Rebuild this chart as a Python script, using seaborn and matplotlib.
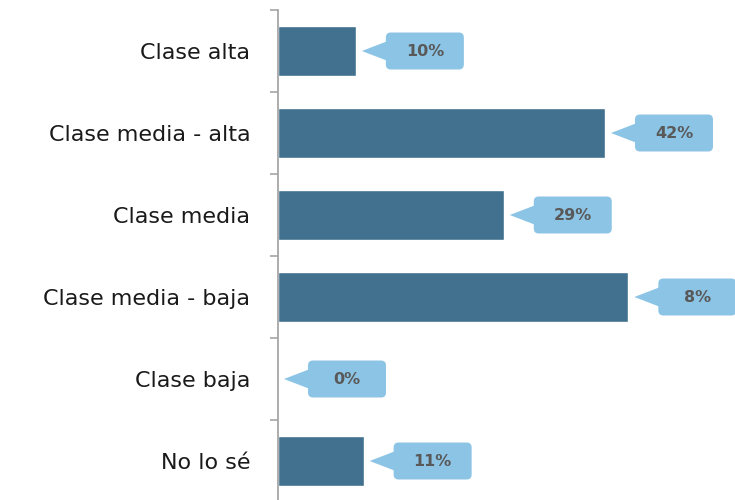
import matplotlib
matplotlib.use('Agg')
import matplotlib.pyplot as plt
from matplotlib.transforms import IdentityTransform
from matplotlib.patches import FancyBboxPatch, Polygon
import seaborn as sns
import pandas as pd
import numpy as np

categories = ["Clase alta", "Clase media - alta", "Clase media",
              "Clase media - baja", "Clase baja", "No lo sé"]
bar_values = [10, 42, 29, 45, 0, 11]          # bar lengths as drawn in the picture
label_texts = ["10%", "42%", "29%", "8%", "0%", "11%"]  # callout texts

sns.set_theme(style="white")
plt.rcParams['font.family'] = ['DejaVu Sans']

W, H = 735, 500
DPI = 100
fig = plt.figure(figsize=(W / DPI, H / DPI), dpi=DPI)
ax = fig.add_axes([278 / W, -2 / H, 1 - 278 / W, 492 / H])

df = pd.DataFrame({"cat": categories, "val": bar_values})
sns.barplot(data=df, y="cat", x="val", color="#41718F", saturation=1,
            width=0.6, ax=ax, orient="h")

ax.set_xlim(0, 58.7)
ax.set_ylim(len(categories) - 0.5, -0.5)
ax.set_xlabel("")
ax.set_ylabel("")
ax.set_xticks([])

for s in ["top", "right", "bottom"]:
    ax.spines[s].set_visible(False)
ax.spines["left"].set_color("#A6A6A6")
ax.spines["left"].set_linewidth(1.3)

ax.set_yticks(range(len(categories)))
ax.set_yticklabels(categories, fontsize=16, color="#1a1a1a")
ax.tick_params(axis="y", which="major", length=0, pad=20)
ax.set_yticks(np.arange(-0.5, len(categories) + 0.5, 1), minor=True)
ax.tick_params(axis="y", which="minor", length=6, width=1.2,
               color="#A6A6A6", direction="out", left=True)

# callouts drawn in pixel space
box_color = "#8CC4E6"
ident = IdentityTransform()
for i, (v, t) in enumerate(zip(bar_values, label_texts)):
    xe, yc = ax.transData.transform((v, i))
    tip_x = xe + 6
    bx0 = tip_x + 24
    bw, bh = 78, 37
    box = FancyBboxPatch((bx0, yc - bh / 2), bw, bh,
                         boxstyle="round,pad=0,rounding_size=5",
                         facecolor=box_color, edgecolor="none",
                         transform=ident, clip_on=False, zorder=3)
    fig.patches.append(box)
    tri = Polygon([(tip_x, yc), (bx0 + 2, yc + 10), (bx0 + 2, yc - 10)],
                  closed=True, facecolor=box_color, edgecolor="none",
                  transform=ident, clip_on=False, zorder=3)
    fig.patches.append(tri)
    fig.text(bx0 + bw / 2, yc, t, transform=ident, ha="center", va="center",
             fontsize=11.5, fontweight="bold", color="#595959", zorder=4)

fig.savefig("out.png", dpi=DPI)
